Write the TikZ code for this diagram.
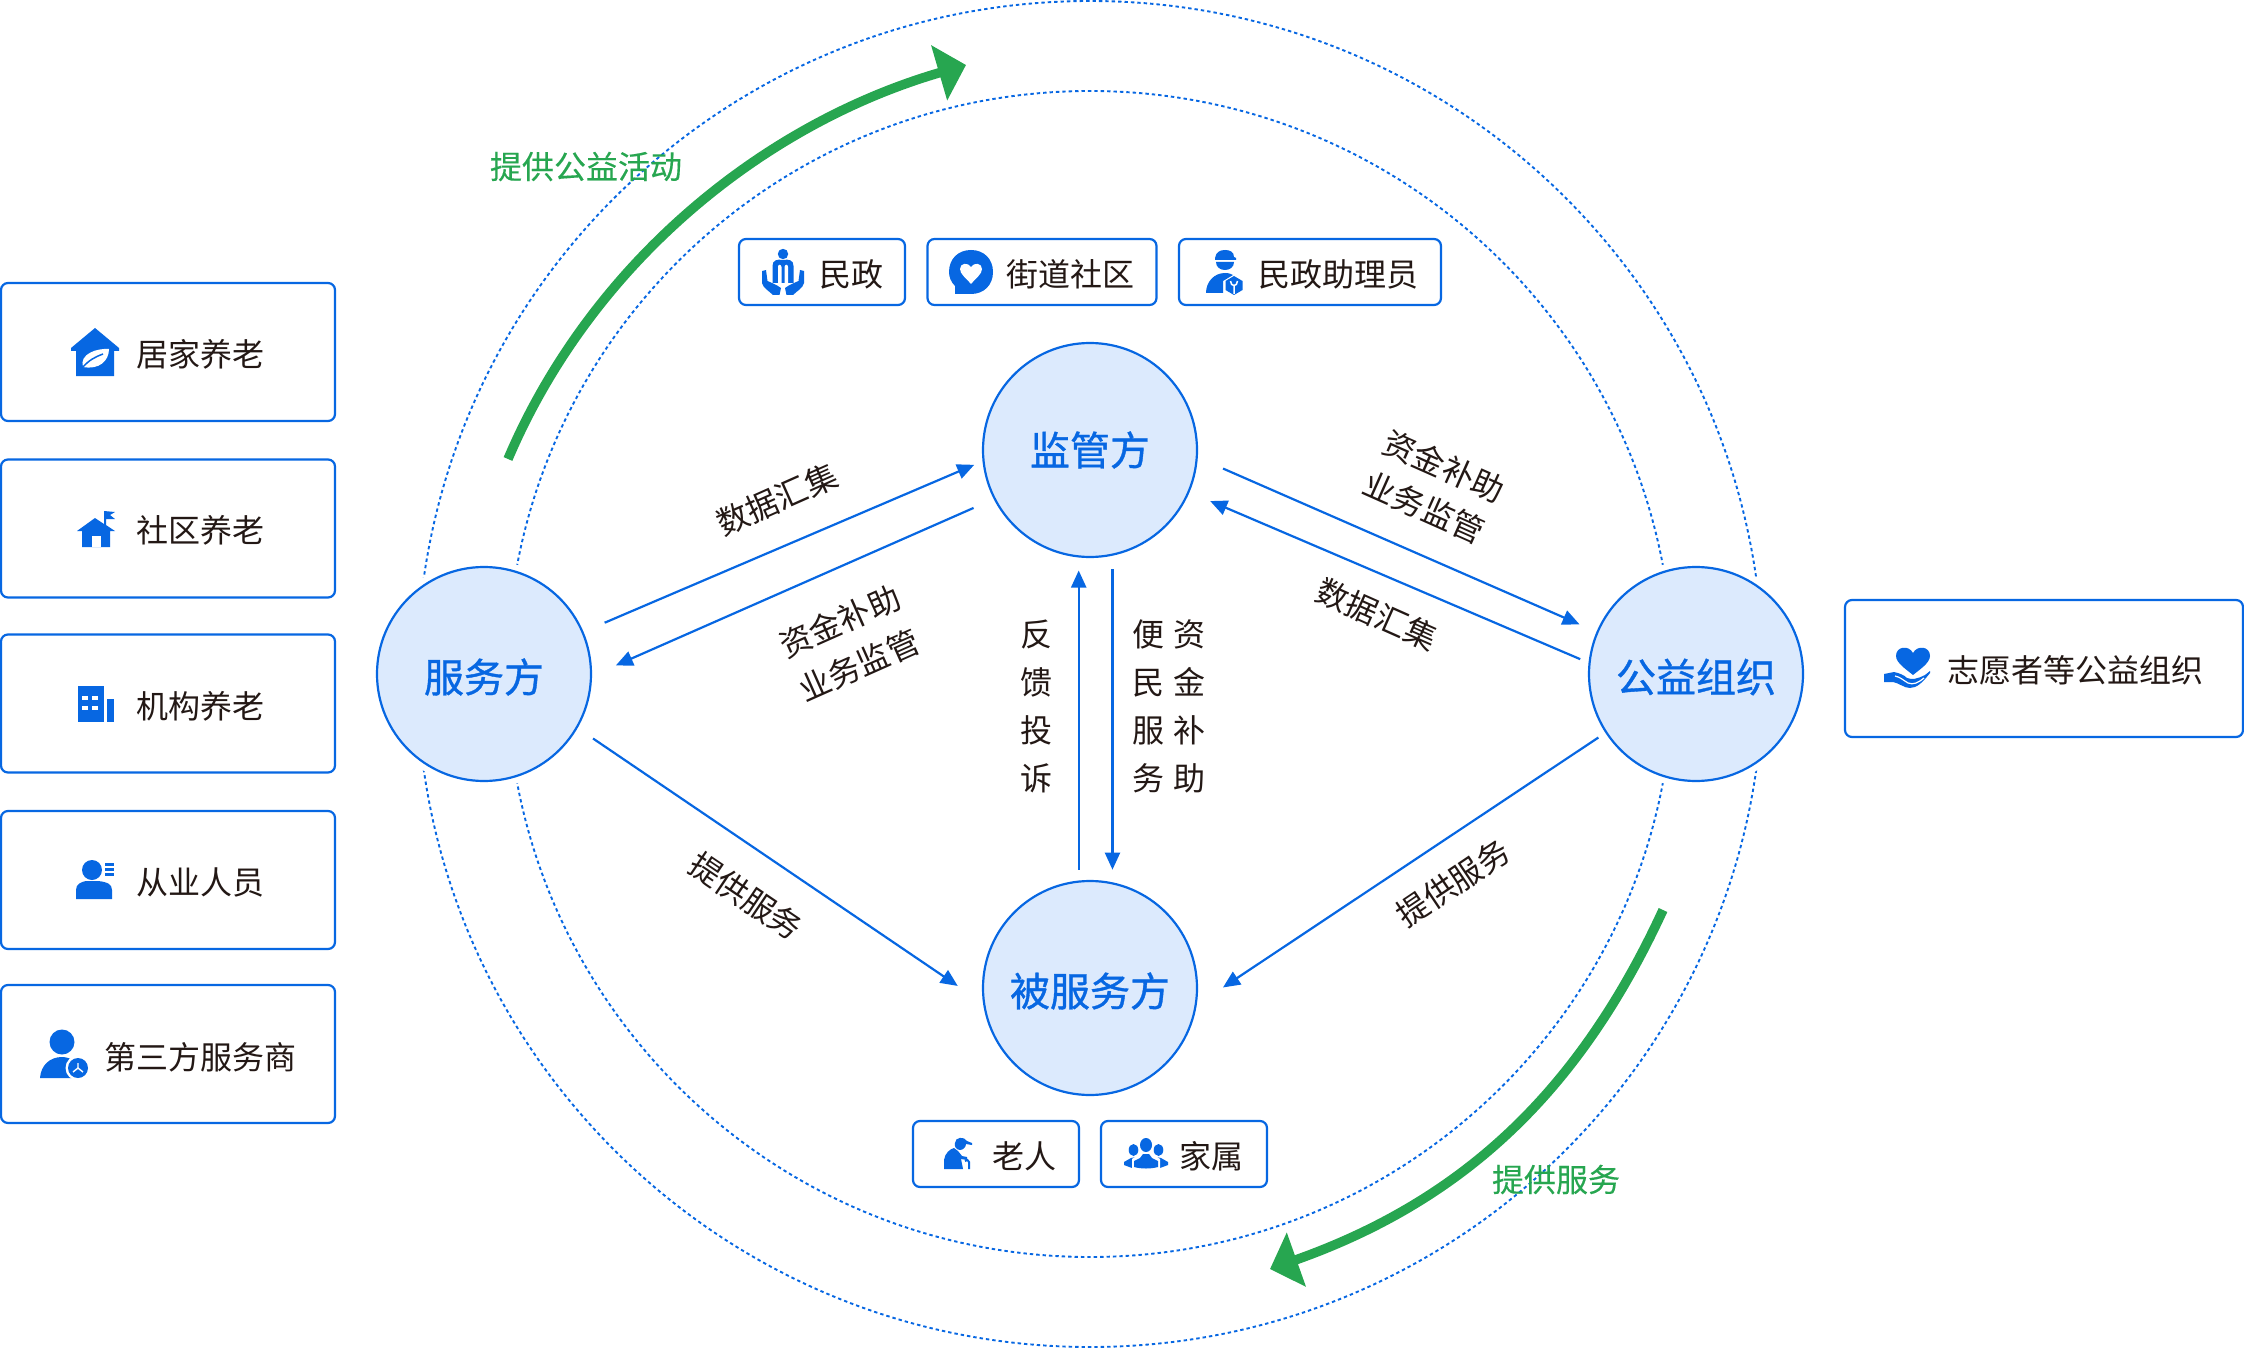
\documentclass[tikz,border=0pt]{standalone}
\usepackage{fontspec}
\usetikzlibrary{arrows.meta}
\setmainfont{Noto Sans CJK SC}
\newfontfamily\cjkmed[FakeBold=0.9]{Noto Sans CJK SC}
\newfontfamily\cjksemi[FakeBold=0.25]{Noto Sans CJK SC}
\definecolor{bluec}{HTML}{0767E2}
\definecolor{fillc}{HTML}{DCEAFD}
\definecolor{greenc}{HTML}{27A650}
\definecolor{inkc}{HTML}{231815}
\newcommand\rolet[1]{\vbox{\vskip6pt\hbox{#1}}}
\tikzset{
  x=1pt,y=-1pt,
  card/.style={draw=bluec,line width=2.2pt,rounded corners=7pt,fill=white,inner sep=0pt},
  lbl/.style={font=\fontsize{32}{48}\selectfont,text=inkc,inner sep=0pt,align=center},
  greenlbl/.style={font=\cjksemi\fontsize{32}{38}\selectfont,text=greenc,inner sep=0pt},
  role/.style={circle,draw=bluec,line width=2.2pt,fill=fillc,minimum size=214pt,inner sep=0pt,
    font=\cjkmed\fontsize{40}{46}\selectfont,text=bluec},
  halo/.style={circle,fill=white,minimum size=228pt,inner sep=0pt},
  ring/.style={draw=bluec,line width=1.9pt,dash pattern=on 3.4pt off 3pt},
  flow/.style={draw=bluec,line width=2.2pt,-{Triangle[length=17pt,width=15pt]}},
  bigarrow/.style={draw=greenc,line width=9.5pt,-{Triangle[length=28pt,width=56pt]}},
  ic/.style={fill=bluec,draw=none},
  icw/.style={fill=white,draw=none},
}
\begin{document}
\begin{tikzpicture}
\useasboundingbox (0,0) rectangle (2244,1348);
% rings
\coordinate (centre) at (1090,674);
\draw[ring] (centre) circle[radius=673];
\draw[ring] (centre) circle[radius=583];
\node[halo] at (484,674) {};
\node[halo] at (1696,674) {};
% green arrows
\coordinate (ga) at (508,459);
\coordinate (gb) at (966,65);
\coordinate (gc) at (1663,910);
\coordinate (gd) at (1270,1269);
\draw[bigarrow] (ga) .. controls (590,266) and (760,125) .. (gb);
\draw[bigarrow] (gc) .. controls (1580,1090) and (1465,1200) .. (gd);
\node[greenlbl] (glabela) at (586,166.5) {提供公益活动};
\node[greenlbl] (glabelb) at (1556,1179.5) {提供服务};
% role circles
\node[role] (jian) at (1090,450) {监管方};
\node[role] (fu) at (484,674) {\rolet{服务方}};
\node[role] (gong) at (1696,674) {\rolet{公益组织}};
\node[role] (bei) at (1090,988) {\rolet{被服务方}};
% connectors
\draw[flow,shorten <=23pt,shorten >=9pt] (fu.23) -- (jian.186);
\draw[flow,shorten <=22pt,shorten >=26pt] (jian.207.9) -- (fu.359.4);
\draw[flow,shorten <=27.5pt,shorten >=18.5pt] (jian.356.2) -- (gong.157.2);
\draw[flow,shorten <=9pt,shorten >=22.5pt] (gong.174.5) -- (jian.337.5);
\draw[flow,shorten <=18.6pt,shorten >=30.5pt] (fu.330) -- (bei.188.3);
\draw[flow,shorten <=8.4pt,shorten >=31.5pt] (gong.213.7) -- (bei.351.7);
\draw[flow,shorten <=10.6pt,shorten >=13pt] (jian.264.1 |- bei.95.9) -- (jian.264.1);
\draw[flow,shorten <=13.5pt,shorten >=13pt] (jian.282.4) -- (jian.282.4 |- bei.77.6);
% connector labels
\node[lbl,rotate=24] (la) at (777,499) {数据汇集};
\node[lbl,rotate=24] (lb) at (840,621) {资金补助};
\node[lbl,rotate=24] (lc) at (859,665) {业务监管};
\node[lbl,rotate=-24] (ld) at (1444,466) {资金补助};
\node[lbl,rotate=-24] (le) at (1424,507) {业务监管};
\node[lbl,rotate=-24] (lf) at (1377,614) {数据汇集};
\node[lbl,rotate=-34] (lg) at (746,896) {提供服务};
\node[lbl,rotate=34] (lh) at (1453,883) {提供服务};
\node[lbl] (li) at (1036,706) {反\\馈\\投\\诉};
\node[lbl] (lj) at (1148,706) {便\\民\\服\\务};
\node[lbl] (lk) at (1189,706) {资\\金\\补\\助};
% left cards
\node[card,minimum width=334pt,minimum height=138pt] (c1) at (168,352) {};
\node[card,minimum width=334pt,minimum height=138pt] (c2) at (168,528.5) {};
\node[card,minimum width=334pt,minimum height=138pt] (c3) at (168,703.5) {};
\node[card,minimum width=334pt,minimum height=138pt] (c4) at (168,880) {};
\node[card,minimum width=334pt,minimum height=138pt] (c5) at (168,1054) {};
\node[lbl] (t1) at (200,354) {居家养老};
\node[lbl] (t2) at (200,530) {社区养老};
\node[lbl] (t3) at (200,706) {机构养老};
\node[lbl] (t4) at (200,882) {从业人员};
\node[lbl] (t5) at (200,1057) {第三方服务商};
% top cards
\node[card,minimum width=166pt,minimum height=66pt] (d1) at (822,272) {};
\node[card,minimum width=229pt,minimum height=66pt] (d2) at (1042,272) {};
\node[card,minimum width=262pt,minimum height=66pt] (d3) at (1310,272) {};
\node[lbl] (u1) at (851.5,274) {民政};
\node[lbl] (u2) at (1070,274) {街道社区};
\node[lbl] (u3) at (1338.5,274) {民政助理员};
% bottom cards
\node[card,minimum width=166pt,minimum height=66pt] (e1) at (996,1154) {};
\node[card,minimum width=166pt,minimum height=66pt] (e2) at (1184,1154) {};
\node[lbl] (v1) at (1024,1156) {老人};
\node[lbl] (v2) at (1211.5,1156) {家属};
% right card
\node[card,minimum width=398pt,minimum height=137pt] (f1) at (2044,668.5) {};
\node[lbl] (w1) at (2075.5,670) {志愿者等公益组织};
% ---- icons ----
% house with leaf
\begin{scope}[shift={(95,352)}]
\fill[ic] (-24,-4) -- (0,-24) -- (24,-4) -- (24,-1) -- (19,-1) -- (19,24) -- (-19,24) -- (-19,-1) -- (-24,-1) -- cycle;
\fill[icw] (-12,15) .. controls (-16,2) and (2,-4) .. (14,-3) .. controls (14,9) and (4,18) .. (-12,15) -- cycle;
\draw[bluec,line width=1.5pt] (-13,16) .. controls (-6,8) and (0,5) .. (8,2);
\end{scope}
% house with flag
\begin{scope}[shift={(96,528)}]
\fill[ic] (-19,3) -- (-1,-10) -- (8,-4) -- (8,-17) -- (19,-16) -- (14,-13) -- (19,-9) -- (10,-9) -- (10,-3) -- (19,3) -- (14,3) -- (14,19) -- (-14,19) -- (-14,3) -- cycle;
\fill[icw] (-4,8) rectangle (5,19);
\end{scope}
% building
\begin{scope}[shift={(95,704)}]
\fill[ic] (-17,-18) rectangle (9,18);
\fill[ic] (12,-5) rectangle (19,18);
\foreach \a/\b in {-13/-8,-3/-8,-13/2,-3/2}{\fill[icw] (\a,\b) rectangle +(6,4);}
\end{scope}
% person with lines
\begin{scope}[shift={(95,880)}]
\fill[ic] (-3,-10) ellipse[x radius=10,y radius=10];
\fill[ic] (-19,19) -- (-19,10) .. controls (-19,4) and (-14,2) .. (-9,1) -- (3,1) .. controls (12,2) and (17,4) .. (17,10) -- (17,19) -- cycle;
\fill[ic] (10,-17) rectangle (19,-14.5);
\fill[ic] (10,-12) rectangle (19,-9.5);
\fill[ic] (10,-7) rectangle (19,-4.5);
\end{scope}
% person with badge
\begin{scope}[shift={(62,1042)}]
\fill[ic] (0,0) circle[radius=12.5];
\fill[ic] (-22,36) .. controls (-21,23) and (-12,15) .. (0,15) .. controls (10,15) and (18,22) .. (20,36) -- cycle;
\fill[icw] (16,26) circle[radius=12.5];
\fill[ic] (16,26) circle[radius=10];
\draw[white,line width=1.4pt] (16,21) -- (16,26) -- (11,30) (16,26) -- (21,30);
\end{scope}
% minzheng hands
\begin{scope}[shift={(783,272)}]
\fill[ic] (0,-18) circle[radius=5.2];
\fill[ic] (-10.5,11) -- (-10.5,-6) .. controls (-10.5,-12) and (-6,-13) .. (0,-12) .. controls (6,-13) and (10.5,-12) .. (10.5,-6) -- (10.5,11) -- cycle;
\fill[icw] (-5,11) -- (-5,-5) .. controls (-5,-8) and (-2,-8) .. (-1.5,-5) -- (-1.5,11) -- cycle;
\fill[icw] (5,11) -- (5,-5) .. controls (5,-8) and (2,-8) .. (1.5,-5) -- (1.5,11) -- cycle;
\fill[ic] (-21,-1) -- (-17,-2) -- (-15.5,9) .. controls (-11,11) and (-6,13) .. (-2,16) -- (-3.5,23) -- (-10,23) .. controls (-14,19) and (-20,16) .. (-21,11) -- cycle;
\fill[ic] (21,-1) -- (17,-2) -- (15.5,9) .. controls (11,11) and (6,13) .. (2,16) -- (3.5,23) -- (10,23) .. controls (14,19) and (20,16) .. (21,11) -- cycle;
\end{scope}
% speech bubble with heart
\begin{scope}[shift={(971,272)}]
\fill[ic] (0,-22) .. controls (13,-22) and (22,-13) .. (22,0) .. controls (22,13) and (13,22) .. (0,22) -- (-16,22) -- (-16,14) .. controls (-20,10) and (-22,5) .. (-22,0) .. controls (-22,-13) and (-13,-22) .. (0,-22) -- cycle;
\fill[icw] (0,12) .. controls (-5,6) and (-11,2) .. (-11,-3) .. controls (-11,-9) and (-3,-10) .. (0,-5) .. controls (3,-10) and (11,-9) .. (11,-3) .. controls (11,2) and (5,6) .. (0,12) -- cycle;
\end{scope}
% worker with wrench
\begin{scope}[shift={(1180,240)}]
\fill[ic] (35,18) .. controls (36,12) and (40,10) .. (45,10) .. controls (50,10) and (54,12) .. (54,17) -- (56,18) -- (56,20) -- (35,20) -- cycle;
\fill[ic] (36,22) -- (54,22) .. controls (54,27) and (50,30) .. (45,30) .. controls (40,30) and (36,27) .. (36,22) -- cycle;
\fill[ic] (26,53) .. controls (26,42) and (34,33) .. (45,33) .. controls (49,33) and (51,34) .. (53,35) -- (43,41) -- (43,53) -- cycle;
\fill[ic] (54,36) -- (62.5,41) -- (62.5,50) -- (54,55) -- (45.5,50) -- (45.5,41) -- cycle;
\draw[white,line width=1.5pt] (50.5,41) .. controls (50.5,47) and (57.5,47) .. (57.5,41) (54,46) -- (54,54);
\end{scope}
% old person
\begin{scope}[shift={(959,1156)}]
\fill[ic] (-4,-13) .. controls (-4,-19) and (5,-20) .. (8,-15) -- (13,-13) -- (13,-11) -- (7,-12) .. controls (7,-9) and (4,-6) .. (1,-6) .. controls (-3,-6) and (-5,-10) .. (-4,-13) -- cycle;
\fill[ic] (-15,13) -- (-15,4) .. controls (-14,-3) and (-9,-7) .. (-5,-8) -- (-1,-5) -- (3,0) -- (8,1) -- (8,4) -- (2,3) -- (4,13) -- cycle;
\draw[bluec,line width=2pt] (10,13) -- (10,6) .. controls (10,3.5) and (7,3.5) .. (6,5);
\end{scope}
% family
\begin{scope}[shift={(1146,1154)}]
\fill[ic] (-12.5,-4) ellipse[x radius=4.8,y radius=6];
\fill[ic] (-22,11) -- (-22,8) -- (-15,4) -- (-10,3) -- (-5,4) -- (-14,14) -- cycle;
\fill[ic] (12.5,-4) ellipse[x radius=4.8,y radius=6];
\fill[ic] (22,11) -- (22,8) -- (15,4) -- (10,3) -- (5,4) -- (14,14) -- cycle;
\fill[icw] (0,-9) ellipse[x radius=8,y radius=9];
\fill[icw] (-14,15) -- (-14,5) -- (-4,-2) -- (4,-2) -- (14,5) -- (14,15) -- cycle;
\fill[ic] (0,-9) ellipse[x radius=6,y radius=7];
\fill[ic] (-12,13) -- (-12,7) -- (-6,4) -- (-3,0) -- (3,0) -- (6,4) -- (12,7) -- (12,13) .. controls (5,15) and (-5,15) .. (-12,13) -- cycle;
\end{scope}
% heart in hand
\begin{scope}[shift={(1907,668)}]
\fill[ic] (6,7) .. controls (0,2) and (-11,-5) .. (-11,-12) .. controls (-11,-22) and (2,-23) .. (6,-15) .. controls (10,-23) and (23,-22) .. (23,-12) .. controls (23,-5) and (12,2) .. (6,7) -- cycle;
\fill[ic] (-23,6) -- (-13,4) .. controls (-8,5) and (-3,7) .. (0,10) .. controls (5,12) and (10,11) .. (18,7) -- (23,3) -- (23,5) .. controls (16,14) and (10,20) .. (3,20) .. controls (-3,20) and (-8,15) .. (-14,14) -- (-23,14) -- cycle;
\draw[white,line width=1.2pt] (-12,8) .. controls (-7,9) and (-4,12) .. (1,15) .. controls (6,17) and (11,15) .. (17,10);
\end{scope}
\end{tikzpicture}
\end{document}
